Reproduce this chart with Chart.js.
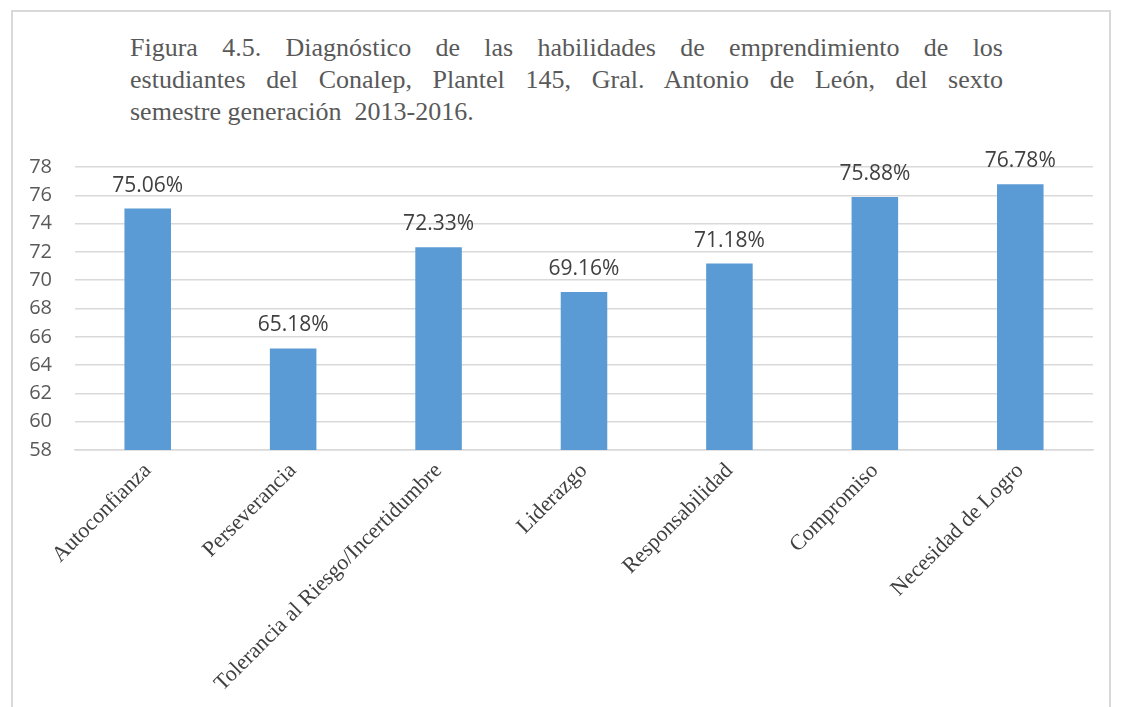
<!DOCTYPE html>
<html>
<head>
<meta charset="utf-8">
<script src="https://cdn.jsdelivr.net/npm/chart.js@4.4.1/dist/chart.umd.min.js"></script>
<style>
  body { margin: 0; background: #fff; }
  #frame {
    position: absolute; left: 11px; top: 10px; width: 1100px; height: 720px;
    border: 2px solid #d9d9d9; border-bottom: none; box-sizing: border-box;
  }
  #title {
    position: absolute; left: 130px; top: 32px; width: 873px;
    font-family: "Liberation Serif", "Times New Roman", serif;
    font-size: 26px; line-height: 32px; color: #595959;
  }
  #title .j { text-align: justify; text-align-last: justify; }
  #wrap { position: absolute; left: 0; top: 0; width: 1123px; height: 707px; }
</style>
</head>
<body>
<div id="frame"></div>
<div id="title">
  <div class="j">Figura 4.5. Diagnóstico de las habilidades de emprendimiento de los</div>
  <div class="j">estudiantes del Conalep, Plantel 145, Gral. Antonio de León, del sexto</div>
  <div>semestre generación&nbsp; 2013-2016.</div>
</div>
<div id="wrap"><canvas id="chart"></canvas></div>
<script>
// habilidades evaluadas
const categories = ["Autoconfianza", "Perseverancia", "Tolerancia al Riesgo/Incertidumbre",
  "Liderazgo", "Responsabilidad", "Compromiso", "Necesidad de Logro"];
const values = [75.06, 65.18, 72.33, 69.16, 71.18, 75.88, 76.78];
const yTicks = [58, 60, 62, 64, 66, 68, 70, 72, 74, 76, 78];

// etiquetas de valor encima de cada barra
const valueLabels = {
  id: "valueLabels",
  afterDatasetsDraw(chart) {
    const ctx = chart.ctx;
    const meta = chart.getDatasetMeta(0);
    ctx.save();
    ctx.font = "21px 'Open Sans'";
    ctx.fillStyle = "#404040";
    ctx.textAlign = "center";
    ctx.textBaseline = "alphabetic";
    meta.data.forEach((bar, i) => {
      ctx.fillText(values[i].toFixed(2) + "%", bar.x, bar.y - 17);
    });
    ctx.restore();
  }
};

const ctx = document.getElementById("chart").getContext("2d");
new Chart(ctx, {
  type: "bar",
  data: {
    labels: categories,
    datasets: [{
      data: values,
      backgroundColor: "#5b9bd5",
      barPercentage: 0.32,
      categoryPercentage: 1
    }]
  },
  options: {
    responsive: true,
    maintainAspectRatio: false,
    animation: false,
    layout: { padding: { top: 167, right: 30, left: 0, bottom: 0 } },
    plugins: {
      legend: { display: false },
      tooltip: { enabled: false },
      title: { display: false }
    },
    scales: {
      x: {
        grid: { display: false, drawTicks: false },
        border: { display: true, color: "#d9d9d9", width: 1.5 },
        ticks: {
          minRotation: 45, maxRotation: 45, padding: 8,
          color: "#404040",
          font: { family: "'Liberation Serif'", size: 22 }
        },
        afterFit(scale) { scale.height = 257; }
      },
      y: {
        min: 58, max: 78,
        afterBuildTicks(scale) { scale.ticks = yTicks.map(v => ({ value: v })); },
        grid: { color: "#d9d9d9", lineWidth: 1.5, drawTicks: false },
        border: { display: false },
        ticks: {
          padding: 23, color: "#595959",
          font: { family: "'Open Sans'", size: 20 }
        },
        afterFit(scale) { scale.width = 75; }
      }
    }
  },
  plugins: [valueLabels]
});
</script>
</body>
</html>
